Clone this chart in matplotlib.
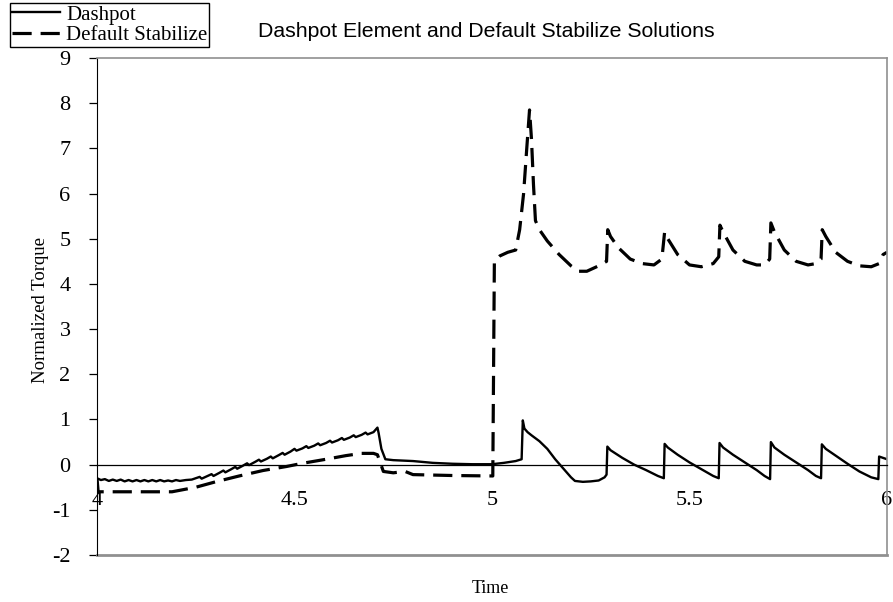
import matplotlib
matplotlib.use('Agg')
import matplotlib.pyplot as plt

# Dashpot element torque
dash_t = [4.000, 4.010, 4.020, 4.030, 4.040, 4.050, 4.060, 4.070, 4.080, 4.090, 4.100,
          4.110, 4.120, 4.130, 4.140, 4.150, 4.160, 4.170, 4.180, 4.190, 4.200, 4.210,
          4.225, 4.240, 4.250, 4.260, 4.265, 4.280, 4.290, 4.295, 4.310, 4.320, 4.325,
          4.340, 4.350, 4.355, 4.370, 4.380, 4.385, 4.400, 4.410, 4.415, 4.430, 4.440,
          4.445, 4.460, 4.470, 4.475, 4.490, 4.500, 4.505, 4.520, 4.530, 4.535, 4.550,
          4.560, 4.565, 4.580, 4.590, 4.595, 4.610, 4.620, 4.625, 4.640, 4.650, 4.655,
          4.670, 4.680, 4.685, 4.700, 4.710, 4.713, 4.720, 4.730, 4.750, 4.800, 4.850,
          4.900, 4.950, 5.000, 5.030, 5.060, 5.075, 5.078, 5.082, 5.090, 5.100, 5.120,
          5.140, 5.160, 5.180, 5.200, 5.210, 5.230, 5.250, 5.270, 5.285, 5.290, 5.292,
          5.300, 5.330, 5.360, 5.390, 5.420, 5.435, 5.437, 5.445, 5.470, 5.500, 5.530,
          5.560, 5.574, 5.576, 5.585, 5.610, 5.640, 5.670, 5.690, 5.704, 5.706, 5.715,
          5.740, 5.770, 5.800, 5.820, 5.833, 5.835, 5.845, 5.870, 5.900, 5.930, 5.960,
          5.978, 5.980, 5.990, 6.000]
dash_v = [-0.30, -0.34, -0.32, -0.36, -0.33, -0.36, -0.33, -0.37, -0.34, -0.37, -0.34,
          -0.37, -0.34, -0.37, -0.34, -0.37, -0.34, -0.37, -0.35, -0.37, -0.34, -0.36,
          -0.34, -0.33, -0.30, -0.27, -0.31, -0.25, -0.21, -0.25, -0.18, -0.13, -0.17,
          -0.10, -0.05, -0.09, -0.02, 0.03, -0.01, 0.06, 0.11, 0.07, 0.13, 0.18,
          0.14, 0.21, 0.26, 0.22, 0.29, 0.35, 0.31, 0.36, 0.41, 0.37, 0.42,
          0.47, 0.43, 0.48, 0.53, 0.49, 0.54, 0.59, 0.55, 0.60, 0.65, 0.61,
          0.66, 0.71, 0.67, 0.72, 0.82, 0.70, 0.35, 0.12, 0.10, 0.08, 0.04,
          0.02, 0.01, 0.01, 0.04, 0.08, 0.12, 0.98, 0.80, 0.72, 0.65, 0.52,
          0.35, 0.12, -0.08, -0.28, -0.36, -0.38, -0.37, -0.35, -0.28, -0.22, 0.40,
          0.32, 0.15, 0.00, -0.12, -0.25, -0.30, 0.46, 0.38, 0.22, 0.05, -0.10,
          -0.25, -0.30, 0.48, 0.38, 0.22, 0.05, -0.12, -0.25, -0.32, 0.50, 0.38,
          0.22, 0.05, -0.12, -0.25, -0.30, 0.45, 0.35, 0.20, 0.02, -0.15, -0.28,
          -0.32, 0.18, 0.15, 0.12]

# Default stabilize torque
stab_t = [4.000, 4.003, 4.190, 4.250, 4.300, 4.360, 4.420, 4.480, 4.520, 4.580, 4.630,
          4.670, 4.700, 4.710, 4.725, 4.750, 4.780, 4.800, 4.900, 5.002, 5.006, 5.020,
          5.040, 5.060, 5.070, 5.080, 5.088, 5.095, 5.100, 5.105, 5.110, 5.120, 5.140,
          5.170, 5.200, 5.220, 5.240, 5.270, 5.290, 5.293, 5.300, 5.320, 5.350, 5.380,
          5.410, 5.430, 5.437, 5.445, 5.470, 5.500, 5.530, 5.560, 5.574, 5.577, 5.585,
          5.610, 5.640, 5.670, 5.690, 5.703, 5.706, 5.715, 5.740, 5.770, 5.800, 5.820,
          5.833, 5.836, 5.845, 5.870, 5.900, 5.930, 5.960, 5.980, 5.990, 6.000]
stab_v = [-0.30, -0.60, -0.60, -0.50, -0.38, -0.25, -0.13, -0.04, 0.03, 0.12, 0.20,
          0.25, 0.25, 0.22, -0.15, -0.18, -0.15, -0.22, -0.24, -0.25, 4.50, 4.62,
          4.70, 4.75, 5.20, 6.00, 7.00, 7.85, 7.20, 6.20, 5.40, 5.20, 4.95,
          4.65, 4.40, 4.28, 4.28, 4.40, 4.50, 5.20, 5.05, 4.80, 4.55, 4.45,
          4.42, 4.55, 5.15, 5.00, 4.65, 4.42, 4.38, 4.45, 4.60, 5.30, 5.15,
          4.75, 4.50, 4.42, 4.42, 4.55, 5.35, 5.15, 4.75, 4.50, 4.42, 4.45,
          4.55, 5.20, 5.05, 4.70, 4.50, 4.40, 4.38, 4.45, 4.65, 4.70]

x_ticks = [4, 4.5, 5, 5.5, 6]
x_labels = ['4', '4.5', '5', '5.5', '6']
y_ticks = list(range(-2, 10))

serif = 'Liberation Serif'
sans = 'Liberation Sans'

fig = plt.figure(figsize=(8.93, 6.02), dpi=100)
ax = fig.add_axes([0.1086, 0.078, 0.8847, 0.8257])

l1, = ax.plot(dash_t, dash_v, color='black', lw=1.7, label='Dashpot')
l2, = ax.plot(stab_t, stab_v, color='black', lw=2.3, dashes=(6, 2.8),
              label='Default Stabilize')

ax.set_xlim(4, 6)
ax.set_ylim(-2, 9)

# x axis crosses at zero, gray frame around the plot area
ax.spines['bottom'].set_position(('data', 0))
ax.spines['bottom'].set_color('black')
ax.spines['bottom'].set_linewidth(0.9)
ax.spines['left'].set_color('black')
for s in ['top', 'right']:
    ax.spines[s].set_color('#909090')
    ax.spines[s].set_linewidth(1.2)
ax.plot([0, 1], [0, 0], transform=ax.transAxes, color='#909090', lw=2.0,
        clip_on=False)

ax.set_xticks(x_ticks)
ax.set_xticklabels(x_labels, fontfamily=serif, fontsize=16)
ax.tick_params(axis='x', length=0, pad=19)
ax.set_yticks(y_ticks)
ax.set_yticklabels([str(v) for v in y_ticks], fontfamily=serif, fontsize=16)
ax.tick_params(axis='y', direction='out', length=6, width=0.9, pad=13)

fig.text(0.045, 0.485, 'Normalized Torque', rotation=90, ha='center', va='center',
         fontfamily=serif, fontsize=13.5)
fig.text(0.549, 0.023, 'Time', ha='center', va='center', fontfamily=serif, fontsize=13)
fig.text(0.289, 0.947, 'Dashpot Element and Default Stabilize Solutions',
         ha='left', va='center', fontfamily=sans, fontsize=15.3)

leg = fig.legend(handles=[l1, l2], loc='upper left', bbox_to_anchor=(0.011, 0.995),
                 prop={'family': serif, 'size': 15}, frameon=True, fancybox=False,
                 edgecolor='black', framealpha=1, borderpad=0.1, labelspacing=0.05,
                 handlelength=2.3, handletextpad=0.3, borderaxespad=0)
leg.get_frame().set_linewidth(1.0)

fig.savefig('out.png', dpi=100)
